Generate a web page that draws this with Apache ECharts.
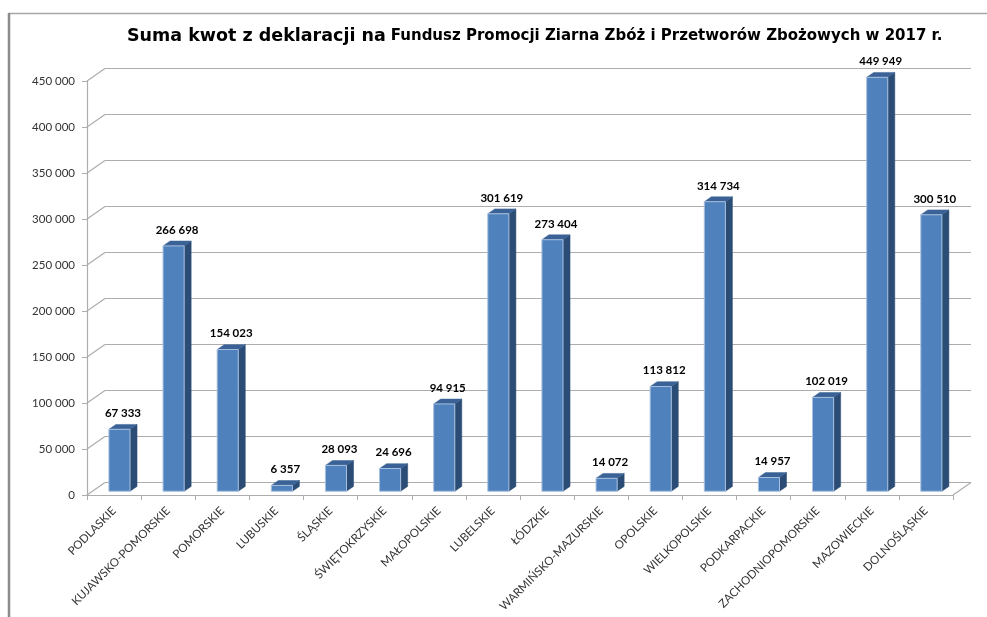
<!DOCTYPE html>
<html><head><meta charset="utf-8">
<script src="https://cdn.jsdelivr.net/npm/echarts@6/dist/echarts.min.js"></script>
<style>html,body{margin:0;padding:0;background:#fff}#c{width:987px;height:617px}</style>
</head><body><div id="c"></div>
<script>
const categories = ['PODLASKIE','KUJAWSKO-POMORSKIE','POMORSKIE','LUBUSKIE','ŚLĄSKIE','ŚWIĘTOKRZYSKIE','MAŁOPOLSKIE','LUBELSKIE','ŁÓDZKIE','WARMIŃSKO-MAZURSKIE','OPOLSKIE','WIELKOPOLSKIE','PODKARPACKIE','ZACHODNIOPOMORSKIE','MAZOWIECKIE','DOLNOŚLĄSKIE'];
const values = [67333,266698,154023,6357,28093,24696,94915,301619,273404,14072,113812,314734,14957,102019,449949,300510];
const yTicks = [0,50000,100000,150000,200000,250000,300000,350000,400000,450000];
const titleMain = 'Suma kwot z deklaracji na';
const titleSub = 'Fundusz Promocji Ziarna Zbóż i Przetworów Zbożowych w 2017 r.';

const fmt = v => String(v).replace(/\B(?=(\d{3})+(?!\d))/g, ' ');
const DX = 18, DY = -12.5, D0 = 0.3, D1 = 0.69;
const GRID = '#ADADAD';
const FONT = 'Lato, "Open Sans", sans-serif';
const TFONT = '"DejaVu Sans", sans-serif';

const chart = echarts.init(document.getElementById('c'), null, {renderer: 'canvas'});
chart.setOption({
  animation: false,
  backgroundColor: '#fff',
  title: {
    text: '{a|' + titleMain + '} {b|' + titleSub + '}',
    left: 122, top: 22,
    textStyle: {
      rich: {
        a: {fontFamily: TFONT, fontWeight: 'bold', fontSize: 17.5, color: '#000'},
        b: {fontFamily: TFONT, fontWeight: 'bold', fontSize: 15, color: '#000'}
      }
    }
  },
  graphic: [
    {type: 'line', shape: {x1: 8, y1: 13.5, x2: 987, y2: 13.5}, style: {stroke: '#A6A6A6', lineWidth: 1.5}, silent: true},
    {type: 'line', shape: {x1: 9, y1: 13, x2: 9, y2: 617}, style: {stroke: '#8C8C8C', lineWidth: 2.5}, silent: true}
  ],
  grid: {left: 87, right: 34, top: 81, bottom: 122},
  xAxis: {
    type: 'category', data: categories,
    axisLine: {lineStyle: {color: GRID, width: 1.2}},
    axisTick: {show: true, length: 5, lineStyle: {color: GRID}},
    axisLabel: {rotate: 45, interval: 0, margin: 14, fontFamily: FONT, fontSize: 11.5, color: '#333'}
  },
  yAxis: {
    type: 'value', min: 0, max: 450000, interval: 50000,
    axisLine: {show: true, lineStyle: {color: GRID, width: 1.2}},
    axisTick: {show: true, length: 5, lineStyle: {color: GRID}},
    splitLine: {show: false},
    axisLabel: {formatter: v => fmt(v), margin: 12, fontFamily: FONT, fontSize: 11.5, color: '#333'}
  },
  series: [
    {
      type: 'custom', z: 1, silent: true,
      data: yTicks.map(v => [0, v]),
      renderItem: function (params, api) {
        const cs = params.coordSys;
        const y = api.coord([0, api.value(1)])[1];
        const x0 = cs.x, x1 = cs.x + cs.width;
        const children = [
          {type: 'line', shape: {x1: x0, y1: y, x2: x0 + DX, y2: y + DY}, style: {stroke: GRID, lineWidth: 1.2}},
          {type: 'line', shape: {x1: x0 + DX, y1: y + DY, x2: x1 + DX, y2: y + DY}, style: {stroke: GRID, lineWidth: 1.2}}
        ];
        if (api.value(1) === 0) {
          children.push({type: 'line', shape: {x1: x1, y1: y, x2: x1 + DX, y2: y + DY}, style: {stroke: GRID, lineWidth: 1.2}});
        }
        return {type: 'group', children: children};
      }
    },
    {
      type: 'custom', z: 5, silent: true,
      data: values.map((v, i) => [i, v]),
      renderItem: function (params, api) {
        const i = api.value(0), v = api.value(1);
        const c0 = api.coord([i, 0]), c1 = api.coord([i, v]);
        const band = api.size([1, 0])[0];
        const w = band * 0.39;
        const xf = c0[0] - w / 2 + DX * D0;
        const yb = c0[1] + DY * D0, yt = c1[1] + DY * D0;
        const ddx = DX * (D1 - D0), ddy = DY * (D1 - D0);
        return {type: 'group', children: [
          {type: 'polygon', shape: {points: [[xf + w, yt], [xf + w + ddx, yt + ddy], [xf + w + ddx, yb + ddy], [xf + w, yb]]}, style: {fill: '#2B4C75', stroke: '#2B4C75', lineWidth: 0.5}},
          {type: 'polygon', shape: {points: [[xf, yt], [xf + w, yt], [xf + w + ddx, yt + ddy], [xf + ddx, yt + ddy]]}, style: {fill: '#3B6296', stroke: '#3B6296', lineWidth: 0.5}},
          {type: 'rect', shape: {x: xf, y: yt, width: w, height: yb - yt}, style: {fill: '#4F81BD', stroke: '#A9C1DF', lineWidth: 1}},
          {type: 'text', x: xf + w / 2 + ddx / 2, y: yt + ddy - 11, style: {text: fmt(v), fontFamily: FONT, fontWeight: 'bold', fontSize: 11.5, fill: '#000', align: 'center', verticalAlign: 'middle'}}
        ]};
      }
    }
  ]
});
</script>
</body></html>
